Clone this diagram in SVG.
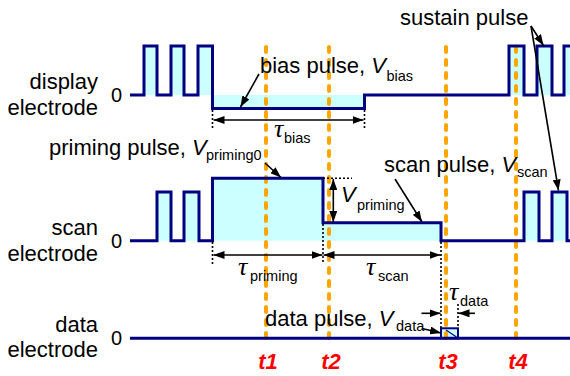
<svg xmlns="http://www.w3.org/2000/svg" width="570" height="376" viewBox="0 0 570 376">
<style>
.lbl{font-family:"Liberation Sans",Arial,sans-serif;font-size:22px;fill:#000}
.zero{font-family:"Liberation Sans",Arial,sans-serif;font-size:20px;fill:#000;text-anchor:end}
.it{font-style:italic}
.sub{font-family:"Liberation Sans",Arial,sans-serif;font-size:14.5px;font-style:normal}
.tau{font-family:"Liberation Serif","Times New Roman",serif;font-style:italic;font-size:26px}
.tl{font-family:"Liberation Sans",Arial,sans-serif;font-size:22px;font-weight:bold;font-style:italic;fill:#FF0000;text-anchor:middle}
.fill{fill:#CCFFFF;stroke:none}
.wave{fill:none;stroke:#000080;stroke-width:3;stroke-linejoin:miter}
.tline{stroke:#FFA500;stroke-width:4;stroke-dasharray:5 8;stroke-linecap:round;fill:none}
.dot{stroke:#000;stroke-width:1.6;stroke-dasharray:2 2;fill:none}
.arr{stroke:#000;stroke-width:1.6;fill:none}
</style>
<defs>
<marker id="ah" markerUnits="userSpaceOnUse" markerWidth="11" markerHeight="8" refX="11" refY="4" orient="auto-start-reverse" viewBox="0 0 11 8">
<path d="M0,0 L11,4 L0,8 z" fill="#000"/>
</marker>
</defs>

<g id="fills">
<rect class="fill" x="144" y="46" width="13" height="49"/>
<rect class="fill" x="171" y="46" width="13" height="49"/>
<rect class="fill" x="198" y="46" width="14.5" height="49"/>
<rect class="fill" x="212.5" y="95" width="152" height="13.5"/>
<rect class="fill" x="509" y="46" width="15" height="49"/>
<rect class="fill" x="537" y="46" width="15" height="49"/>
<rect class="fill" x="564" y="46" width="6" height="49"/>
<rect class="fill" x="157" y="192" width="14" height="48.7"/>
<rect class="fill" x="184" y="192" width="15" height="48.7"/>
<rect class="fill" x="212.5" y="178.3" width="110.5" height="62.4"/>
<rect class="fill" x="323" y="222.7" width="118" height="18"/>
<rect class="fill" x="524" y="192" width="15" height="48.7"/>
<rect class="fill" x="552" y="192" width="15" height="48.7"/>
<rect class="fill" x="441" y="328.3" width="17" height="10"/>
</g>

<g id="time-markers">
<line class="tline" x1="266" y1="47" x2="266" y2="345"/>
<line class="tline" x1="329" y1="47" x2="329" y2="345"/>
<line class="tline" x1="446" y1="47" x2="446" y2="345"/>
<line class="tline" x1="516" y1="47" x2="516" y2="345"/>
<text class="tl" x="268" y="369">t1</text>
<text class="tl" x="331" y="369">t2</text>
<text class="tl" x="448" y="369">t3</text>
<text class="tl" x="518" y="369">t4</text>
</g>

<g id="display-electrode">
<path class="wave" d="M130,95 H144 V46 H157 V95 H171 V46 H184 V95 H198 V46 H212.5 V108.5 H364.5 V95 H509 V46 H524 V95 H537 V46 H552 V95 H564 V46 H571"/>
<text class="lbl" text-anchor="end" x="98" y="89">display</text>
<text class="lbl" text-anchor="end" x="98" y="115">electrode</text>
<text class="zero" x="122" y="102">0</text>
</g>

<g id="scan-electrode">
<path class="wave" d="M130,240.7 H157 V192 H171 V240.7 H184 V192 H199 V240.7 H212.5 V178.3 H323 V222.7 H441 V240.7 H524 V192 H539 V240.7 H552 V192 H567 V240.7 H571"/>
<text class="lbl" text-anchor="end" x="98" y="235">scan</text>
<text class="lbl" text-anchor="end" x="98" y="261">electrode</text>
<text class="zero" x="122" y="248">0</text>
</g>

<g id="data-electrode">
<path class="wave" d="M130,338.3 H571"/>
<rect x="441" y="328.3" width="17" height="10" fill="none" stroke="#000080" stroke-width="2"/>
<line x1="446" y1="330" x2="456.5" y2="337" stroke="#000080" stroke-width="1.2"/>
<text class="lbl" text-anchor="end" x="98" y="332">data</text>
<text class="lbl" text-anchor="end" x="98" y="357">electrode</text>
<text class="zero" x="122" y="345">0</text>
</g>

<g id="connectors">
<line class="dot" x1="212.5" y1="110" x2="212.5" y2="128"/>
<line class="dot" x1="364.5" y1="110" x2="364.5" y2="128"/>
<line class="dot" x1="212.5" y1="242" x2="212.5" y2="264"/>
<line class="dot" x1="323" y1="224" x2="323" y2="264"/>
<line class="dot" x1="323" y1="178.3" x2="352" y2="178.3"/>
<line class="dot" x1="441" y1="242" x2="441" y2="328"/>
<line class="dot" x1="458" y1="304" x2="458" y2="328"/>
<line class="arr" x1="213.5" y1="120" x2="363.5" y2="120" marker-start="url(#ah)" marker-end="url(#ah)"/>
<line class="arr" x1="213.5" y1="255" x2="322.5" y2="255" marker-start="url(#ah)" marker-end="url(#ah)"/>
<line class="arr" x1="323.5" y1="255" x2="440.5" y2="255" marker-start="url(#ah)" marker-end="url(#ah)"/>
<line class="arr" x1="333.3" y1="179" x2="333.3" y2="222" marker-start="url(#ah)" marker-end="url(#ah)"/>
<line class="arr" x1="421.5" y1="313.3" x2="440.5" y2="313.3" marker-end="url(#ah)"/>
<line class="arr" x1="475" y1="313.3" x2="458.5" y2="313.3" marker-end="url(#ah)"/>
<line class="arr" x1="422" y1="328.5" x2="441" y2="333" marker-end="url(#ah)"/>
<line class="arr" x1="259" y1="74" x2="240.5" y2="107" marker-end="url(#ah)"/>
<line class="arr" x1="265" y1="163" x2="281" y2="177.5" marker-end="url(#ah)"/>
<line class="arr" x1="395" y1="179" x2="422" y2="222" marker-end="url(#ah)"/>
<line class="arr" x1="531" y1="26" x2="543.5" y2="45.5" marker-end="url(#ah)"/>
<line class="arr" x1="531" y1="26" x2="558.5" y2="190.5" marker-end="url(#ah)"/>
</g>

<g id="labels">
<text class="lbl" x="260" y="73">bias pulse, <tspan class="it">V</tspan><tspan class="sub" x="386.5" y="81">bias</tspan></text>
<text class="lbl" x="49" y="155">priming pulse, <tspan class="it">V</tspan><tspan class="sub" x="206" y="160">priming0</tspan></text>
<text class="lbl" x="384" y="172">scan pulse, <tspan class="it">V</tspan><tspan class="sub" x="517" y="177">scan</tspan></text>
<text class="lbl" x="400" y="25">sustain pulse</text>
<text class="lbl" x="265" y="326">data pulse, <tspan class="it">V</tspan><tspan class="sub" x="396" y="331">data</tspan></text>
<text class="lbl" x="341" y="202"><tspan class="it">V</tspan><tspan class="sub" x="357" y="210">priming</tspan></text>
<text x="274" y="137"><tspan class="tau">τ</tspan><tspan class="sub" x="284" y="143">bias</tspan></text>
<text x="238" y="275"><tspan class="tau">τ</tspan><tspan class="sub" x="250" y="281">priming</tspan></text>
<text x="366" y="275"><tspan class="tau">τ</tspan><tspan class="sub" x="378" y="281">scan</tspan></text>
<text x="449" y="300"><tspan class="tau">τ</tspan><tspan class="sub" x="460" y="306">data</tspan></text>
</g>
</svg>
